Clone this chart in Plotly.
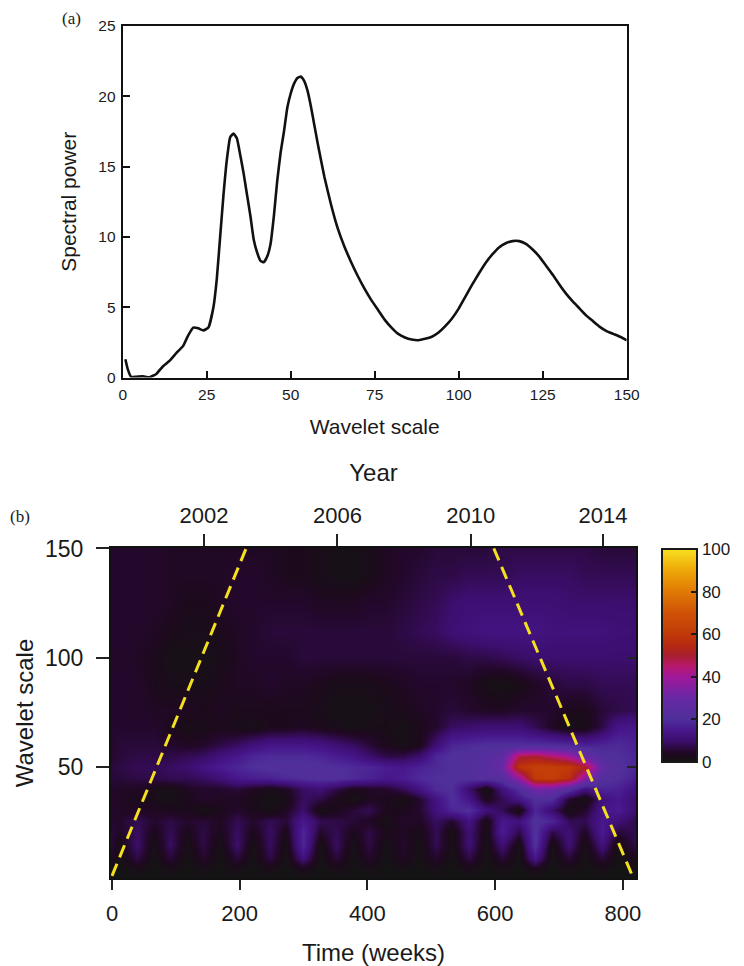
import plotly.graph_objects as go

W, H = 744, 966
FONT = "Liberation Sans"
INK = "#1a1a1a"

# Panel (a): global wavelet spectrum
scale_a = [0.8,1.5,2.5,4,6,8,10,12,14,16,18,19.5,21,22.5,24,25.5,27,28,29,30,31,32,33,34,35,36,37,38,39,40,41,42,43,44,45,46,47,48,49,50,51,52,53,54,55,56,57,58,60,62,64,66,68,70,72,74,76,78,80,82,84,86,88,90,92,94,96,98,100,102,104,106,108,110,112,114,116,118,120,122,124,126,128,130,132,134,136,138,140,142,144,146,148,150]
power_a = [1.3,0.6,0.05,0.05,0.08,0.02,0.25,0.8,1.2,1.75,2.25,3.0,3.55,3.5,3.35,3.55,5,7,10,13,15.5,17.1,17.35,17,15.8,14.5,13,11.5,9.8,8.9,8.3,8.2,8.6,9.5,11.5,14,16,17.5,19.2,20.2,20.9,21.3,21.4,21.1,20.4,19.3,18,16.7,14.3,12.3,10.6,9.3,8.2,7.2,6.3,5.5,4.8,4.1,3.55,3.1,2.85,2.7,2.65,2.75,2.9,3.2,3.65,4.2,4.9,5.75,6.6,7.4,8.15,8.75,9.25,9.55,9.7,9.7,9.5,9.1,8.6,7.95,7.3,6.6,5.95,5.4,4.9,4.4,4,3.6,3.3,3.1,2.9,2.65]

# Panel (b): wavelet power
weeks = [-2,13,39,65,91,117,143,169,195,221,247,273,299,325,351,377,403,429,455,481,507,533,559,585,611,637,663,689,715,741,767,793,822]
scales = [150,138,125,112,100,88,76,68,60,55,50,45,40,35,30,25,20,14,8,3,-1]
power = [
 [5,5,5,5,4,4,4,4,4,4,4,3,3,2,1,1,2,4,5,5,6,6,6,6,7,7,7,7,7,7,6,6,6],
 [5,5,5,5,4,4,4,4,5,5,4,3,3,2,1,1,2,4,5,6,7,7,8,8,8,9,9,9,9,8,8,8,8],
 [5,5,5,5,4,3,3,4,5,5,5,5,5,4,4,4,5,5,6,7,8,10,11,11,11,11,11,11,10,10,10,10,10],
 [5,5,5,4,3,2,2,3,4,5,6,6,6,6,6,6,6,6,7,8,9,11,12,13,13,13,13,12,12,12,12,11,11],
 [5,5,4,3,1,1,1,2,4,5,5,5,6,6,6,6,6,6,6,6,6,6,7,7,8,9,10,10,10,10,10,10,10],
 [5,5,5,3,2,2,2,3,4,4,5,4,4,3,2,2,2,3,4,5,5,5,4,1.5,0.5,2,4,6,7,7,8,8,8],
 [5,5,5,4,4,4,3,4,3,3,3,3,3,2,1,1,1,2,3,4,5,6,5,4,4,5,5,5,3,3,6,7,8],
 [5,5,5,5,3,1.5,2,3,2,1.5,3,3,4,3,2,1,2,2,1,3,5,9,10,11,11,11,8,4,1,2,7,14,15],
 [5,6,6,6,5,4,5,7,9,12,14,14,14,13,11,9,6,3,1.5,3,11,18,19,20,20,20,20,20,19,17,18,19,17],
 [5,6,7,7,7,8,9,12,15,18,19,19,19,18,16,14,10,7,7,10,18,21,21,22,26,48,50,45,40,28,21,20,18],
 [6,7,8,8,9,10,13,16,18,20,21,21,21,21,20,19,18,16,15,17,19,20,21,23,30,58,62,62,60,52,27,21,18],
 [6,6,7,7,8,8,9,11,15,16,17,19,20,21,21,19,17,15,16,19,20,20,21,22,23,38,60,62,56,36,22,20,16],
 [5,4,4,2,1.5,4,5,5,6,4,2,4,9,11,7,3,4,5,8,13,19,20,10,0.5,12,20,32,30,22,12,18,17,12],
 [5,4,3,2,1,3,5,4,4,2.5,0.5,2,9,7,3,0.5,4,3,1,5,13,20,14,3,8,14,20,20,5,0.5,12,15,10],
 [5,4,4,4,3,3,1,3,5,3,1,4,10,1,3,6,8,3,3,5,12,18,20,12,8,0.5,18,10,1,5,14,16,10],
 [5,5,8,5,7,5,6,4,8,5,8,6,15,8,7,6,4,1,5,4,9,5,13,1.5,15,12,21,18,8,8,15,11,7],
 [6,4,9,3,8,3,7,3,9,3,9,3,18,5,8,3,7,3,4,2,8,1,11,1.5,16,7,21,7,11,4,16,6,8],
 [6,1.5,10,1,9,1,7,1,10,1,9,1,18,1,9,1,7,1,5,1,8,1,11,1,11,1,21,1,11,1,12,1,8],
 [4,1,7,0.5,6,0.5,5,0.5,6,0.5,7,0.5,12,0.5,6,0.5,5,0.5,4,0.5,5,0.5,7,0.5,6,0.5,14,0.5,6,0.5,6,0.5,4],
 [0,0,2,0,2,0,1.5,0,2,0,2,0,3,0,2,0,1.5,0,1,0,1.5,0,2,0,1.5,0,3,0,1.5,0,1.5,0,1],
 [0]*33,
]
assert all(len(r) == len(weeks) for r in power) and len(power) == len(scales)

coi_left_x, coi_left_y = [0, 210], [0, 150]
coi_right_x, coi_right_y = [598, 815], [150, 0]

year_labels = ["2002", "2006", "2010", "2014"]
year_weeks = [144, 353, 562, 769]

colorscale = [
    [0.00, "#141414"], [0.03, "#1c0a1c"], [0.05, "#24082c"], [0.10, "#3c0e6e"],
    [0.15, "#47178c"], [0.20, "#4f2f9a"], [0.30, "#6828a5"], [0.40, "#a0189a"],
    [0.45, "#b8186c"], [0.50, "#a81f30"], [0.55, "#b82a10"], [0.60, "#c03a08"],
    [0.70, "#cf5206"], [0.80, "#e07a05"], [0.90, "#eea808"], [1.00, "#f8e020"],
]

def fx(p): return p / W
def fy(p): return 1 - p / H

fig = go.Figure()
fig.add_trace(go.Scatter(x=scale_a, y=power_a, mode="lines", xaxis="x", yaxis="y",
                         line=dict(color="#111111", width=2.6, shape="spline", smoothing=0.4),
                         showlegend=False))
fig.add_trace(go.Heatmap(x=weeks, y=scales[::-1], z=power[::-1], xaxis="x2", yaxis="y2",
                         zmin=0, zmax=100, zsmooth="best", colorscale=colorscale,
                         colorbar=dict(lenmode="pixels", len=213, thicknessmode="pixels", thickness=35,
                                       x=fx(662), xanchor="left", y=fy(549), yanchor="top",
                                       xpad=0, ypad=0, outlinecolor=INK, outlinewidth=2,
                                       ticks="inside", ticklen=7, tickwidth=2, tickcolor=INK,
                                       tickvals=[0, 20, 40, 60, 80, 100],
                                       tickfont=dict(family=FONT, size=17, color=INK))))
for xs, ys, ya in ((coi_left_x, coi_left_y, "y2"), (coi_right_x, coi_right_y, "y4")):
    fig.add_trace(go.Scatter(x=xs, y=ys, mode="lines", xaxis="x2", yaxis=ya, showlegend=False,
                             line=dict(color="#f5e020", width=3, dash="13px,7px")))
# carries the year axis along the top of panel (b)
fig.add_trace(go.Scatter(x=year_weeks, y=[150]*4, mode="lines", xaxis="x3", yaxis="y2",
                         line=dict(width=0), showlegend=False, hoverinfo="skip"))

a_axis = dict(showgrid=False, zeroline=False, showline=True, linecolor="#111111", linewidth=2,
              mirror=True, ticks="inside", ticklen=7, tickwidth=1.5, tickcolor="#111111", automargin=False,
              tickfont=dict(family=FONT, size=15.5, color=INK))
b_line = dict(showgrid=False, zeroline=False, showline=True, linecolor="#111111", linewidth=2, automargin=False,
              tickcolor="#222222", tickwidth=1.5)

fig.update_layout(
    width=W, height=H, autosize=False, margin=dict(l=0, r=0, t=0, b=0, autoexpand=False),
    paper_bgcolor="white", plot_bgcolor="white", showlegend=False,
    xaxis=dict(a_axis, domain=[fx(122.7), fx(626.7)], range=[0, 150], tickvals=[0, 25, 50, 75, 100, 125, 150],
               ticklabelstandoff=2, anchor="y",
               title=dict(text="Wavelet scale", font=dict(family=FONT, size=21, color=INK), standoff=17)),
    yaxis=dict(a_axis, domain=[fy(377.5), fy(26)], range=[0, 25], tickvals=[0, 5, 10, 15, 20, 25],
               anchor="x", ticklabelstandoff=2,
               title=dict(text="Spectral power", font=dict(family=FONT, size=21, color=INK), standoff=16)),
    xaxis2=dict(b_line, domain=[fx(111), fx(636)], range=[-1.6, 820.7], anchor="y2", side="bottom",
                tickvals=[0, 200, 400, 600, 800], ticks="outside", ticklen=10, ticklabelstandoff=5,
                tickfont=dict(family=FONT, size=22, color=INK),
                title=dict(text="Time (weeks)", font=dict(family=FONT, size=24, color=INK), standoff=19)),
    yaxis2=dict(b_line, domain=[fy(878), fy(548)], range=[-1, 150.2], anchor="x2",
                tickvals=[50, 100, 150], ticks="outside", ticklen=13, ticklabelstandoff=8,
                tickfont=dict(family=FONT, size=23, color=INK),
                title=dict(text="Wavelet scale", font=dict(family=FONT, size=24, color=INK), standoff=5)),
    xaxis3=dict(b_line, domain=[fx(111), fx(636)], range=[-1.6, 820.7], anchor="y2", overlaying="x2", side="top",
                tickvals=year_weeks, ticktext=year_labels, ticks="outside", ticklen=12, ticklabelstandoff=2,
                tickfont=dict(family=FONT, size=22, color=INK),
                title=dict(text="Year", font=dict(family=FONT, size=24, color=INK), standoff=15)),
    yaxis4=dict(b_line, domain=[fy(878), fy(548)], range=[-1, 150.2], anchor="x2", overlaying="y2", side="right",
                tickvals=[50, 100, 150], ticks="inside", ticklen=9, showticklabels=False),
    yaxis5=dict(showgrid=False, zeroline=False, showline=False, domain=[fy(762), fy(549)], range=[0, 100],
                anchor="free", position=fx(662), side="left", overlaying="y2", automargin=False,
                tickvals=[20, 40, 60, 80], ticks="inside", ticklen=7, tickwidth=2, tickcolor=INK,
                showticklabels=False),
    annotations=[
        dict(text="(a)", x=fx(60), y=fy(18), xref="paper", yref="paper", xanchor="left", yanchor="middle",
             showarrow=False, font=dict(family="Liberation Serif", size=17, color=INK)),
        dict(text="(b)", x=fx(8), y=fy(516), xref="paper", yref="paper", xanchor="left", yanchor="middle",
             showarrow=False, font=dict(family="Liberation Serif", size=17, color=INK)),
    ],
)
fig.write_html("out.html", config={"displayModeBar": False},
               post_script="document.body.style.margin='0';document.body.style.overflow='hidden';")
